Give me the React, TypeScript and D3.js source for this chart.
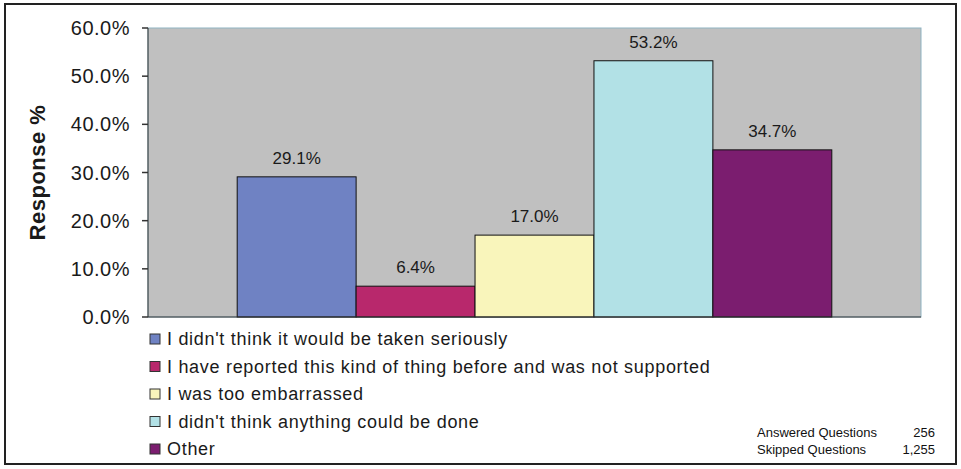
import React from "react";
import * as d3 from "d3";

const categories = [
  "I didn't think it would be taken seriously",
  "I have reported this kind of thing before and was not supported",
  "I was too embarrassed",
  "I didn't think anything could be done",
  "Other",
];
const values = [29.1, 6.4, 17.0, 53.2, 34.7];
const colors = ["#6f82c3", "#b8286c", "#f9f5bb", "#b2e1e6", "#7b1d6f"];
const yTicks = [0, 10, 20, 30, 40, 50, 60];
const footerLabels = ["Answered Questions", "Skipped Questions"];
const footerValues = ["256", "1,255"];

const W = 961;
const H = 469;
const plot = { left: 148, right: 921, top: 28, bottom: 317 };

export default function App() {
  const x = d3
    .scaleBand<string>()
    .domain(categories)
    .range([plot.left, plot.right])
    .paddingInner(0)
    .paddingOuter(0.75);
  const y = d3.scaleLinear().domain([0, 60]).range([plot.bottom, plot.top]);
  const font = "Arial, 'Liberation Sans', Helvetica, sans-serif";

  return (
    <div style={{ position: "absolute", left: 0, top: 0 }}>
      <svg width={W} height={H} style={{ display: "block" }}>
        <rect x={0} y={0} width={W} height={H} fill="#ffffff" />
        <rect x={5} y={4} width={951} height={460} fill="#ffffff" stroke="#222" strokeWidth={2} />
        <rect
          x={plot.left}
          y={plot.top}
          width={plot.right - plot.left}
          height={plot.bottom - plot.top}
          fill="#c0c0c0"
          stroke="#8fb3c2"
          strokeWidth={1}
        />
        {/* y axis */}
        <line x1={plot.left} x2={plot.left} y1={plot.top} y2={plot.bottom} stroke="#333" strokeWidth={1} />
        {yTicks.map((t) => (
          <g key={t}>
            <line x1={plot.left - 6} x2={plot.left} y1={y(t)} y2={y(t)} stroke="#333" strokeWidth={1.5} />
            <text
              x={130}
              y={y(t)}
              dy="0.35em"
              textAnchor="end"
              fontFamily={font}
              fontSize={20}
              letterSpacing={0.5}
              fill="#1a1a1a"
            >
              {t.toFixed(1) + "%"}
            </text>
          </g>
        ))}
        <text
          transform={`translate(45, ${(plot.top + plot.bottom) / 2}) rotate(-90)`}
          textAnchor="middle"
          fontFamily={font}
          fontSize={22}
          fontWeight="bold"
          letterSpacing={0.5}
          fill="#1a1a1a"
        >
          Response %
        </text>
        {/* bars */}
        {categories.map((c, i) => (
          <g key={c}>
            <rect
              x={x(c)}
              y={y(values[i])}
              width={x.bandwidth()}
              height={y(0) - y(values[i])}
              fill={colors[i]}
              stroke="#111"
              strokeWidth={1}
            />
            <text
              x={(x(c) as number) + x.bandwidth() / 2}
              y={y(values[i]) - 13}
              textAnchor="middle"
              fontFamily={font}
              fontSize={17}
              fill="#1a1a1a"
            >
              {values[i].toFixed(1) + "%"}
            </text>
          </g>
        ))}
        <line x1={plot.left} x2={plot.right} y1={plot.bottom} y2={plot.bottom} stroke="#333" strokeWidth={1} />
        {/* legend */}
        {categories.map((c, i) => {
          const cy = 339 + i * 27.5;
          return (
            <g key={"lg" + c}>
              <rect x={150} y={cy - 5} width={10} height={10} fill={colors[i]} stroke="#333" strokeWidth={1} />
              <text
                x={167}
                y={cy}
                dy="0.35em"
                fontFamily={font}
                fontSize={18}
                letterSpacing={0.7}
                fill="#1a1a1a"
              >
                {c}
              </text>
            </g>
          );
        })}
        {/* footer */}
        {footerLabels.map((l, i) => (
          <g key={l}>
            <text x={757} y={437 + i * 17} fontFamily={font} fontSize={13} fill="#111">
              {l}
            </text>
            <text x={935} y={437 + i * 17} textAnchor="end" fontFamily={font} fontSize={13} fill="#111">
              {footerValues[i]}
            </text>
          </g>
        ))}
      </svg>
    </div>
  );
}
